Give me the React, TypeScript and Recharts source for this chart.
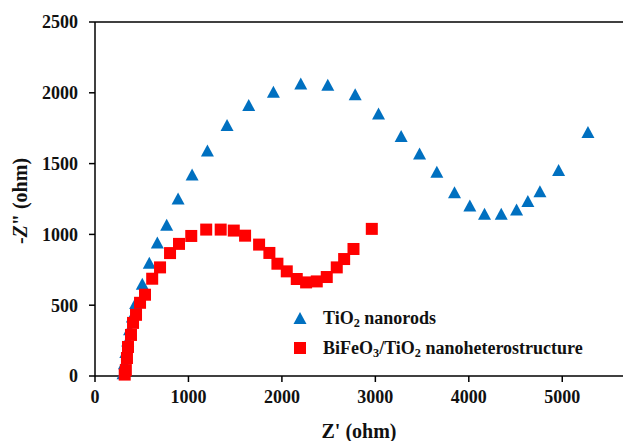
import React from 'react';
import {
  ScatterChart,
  Scatter,
  XAxis,
  YAxis,
  ReferenceLine,
  Label,
} from 'recharts';

// TiO2 nanorods (Z', -Z'')
const tio2X = [300, 315, 330, 350, 370, 400, 435, 506, 581, 667, 767, 889, 1039, 1203, 1413, 1645, 1909, 2202, 2491, 2784, 3034, 3276, 3473, 3658, 3847, 4011, 4168, 4347, 4511, 4632, 4761, 4961, 5275];
const tio2Y = [20, 90, 170, 250, 330, 420, 515, 651, 800, 942, 1069, 1254, 1423, 1593, 1773, 1914, 2007, 2066, 2056, 1990, 1853, 1695, 1572, 1443, 1298, 1204, 1145, 1145, 1176, 1235, 1305, 1454, 1723];

// BiFeO3/TiO2 nanoheterostructure
const bfoX = [318, 330, 342, 353, 385, 407, 439, 482, 535, 612, 696, 803, 899, 1030, 1190, 1345, 1485, 1606, 1756, 1866, 1952, 2052, 2159, 2259, 2373, 2480, 2587, 2666, 2766, 2962];
const bfoY = [10, 42, 127, 205, 290, 375, 432, 517, 574, 687, 767, 868, 933, 989, 1034, 1034, 1027, 991, 928, 869, 793, 739, 685, 661, 668, 699, 767, 826, 897, 1039];

const xTicks = [0, 1000, 2000, 3000, 4000, 5000];
const yTicks = [0, 500, 1000, 1500, 2000, 2500];

const tio2Data = tio2X.map((x, i) => ({ x, y: tio2Y[i] }));
const bfoData = bfoX.map((x, i) => ({ x, y: bfoY[i] }));

const FONT = '"Liberation Serif", "Times New Roman", serif';
const sub = { fontSize: '0.68em', position: 'relative' as const, top: 3 };

const Triangle = (props: any) => {
  const { cx, cy } = props;
  return (
    <polygon
      points={`${cx},${cy - 6} ${cx + 6.5},${cy + 6} ${cx - 6.5},${cy + 6}`}
      fill="#0070C0"
    />
  );
};

const Square = (props: any) => {
  const { cx, cy } = props;
  return <rect x={cx - 6} y={cy - 6} width={12} height={12} fill="#FF0000" />;
};

function LegendBox() {
  return (
    <div
      style={{
        position: 'absolute',
        left: 292,
        top: 303,
        fontFamily: FONT,
        fontWeight: 'bold',
        fontSize: 18,
        color: '#111',
        whiteSpace: 'nowrap',
      }}
    >
      <div style={{ display: 'flex', alignItems: 'center', height: 30 }}>
        <svg width={16} height={16} style={{ marginRight: 15 }}>
          <polygon points="8,2 14.5,14 1.5,14" fill="#0070C0" />
        </svg>
        <span>
          TiO<span style={sub}>2</span> nanorods
        </span>
      </div>
      <div style={{ display: 'flex', alignItems: 'center', height: 30 }}>
        <svg width={16} height={16} style={{ marginRight: 15 }}>
          <rect x={2} y={2} width={12} height={12} fill="#FF0000" />
        </svg>
        <span>
          BiFeO<span style={sub}>3</span>/TiO<span style={sub}>2</span> nanoheterostructure
        </span>
      </div>
    </div>
  );
}

export default function App() {
  return (
    <div style={{ position: 'absolute', left: 0, top: 0, width: 623, height: 441, background: '#fff' }}>
      <ScatterChart width={623} height={441} margin={{ top: 22, right: 0, bottom: 0, left: 0 }}>
        <XAxis
          type="number"
          dataKey="x"
          domain={[0, 5650]}
          ticks={xTicks}
          allowDataOverflow
          height={65}
          stroke="#000"
          strokeWidth={1.5}
          tickSize={6}
          tickMargin={8}
          tick={{ fill: '#111', fontSize: 18, fontWeight: 'bold', fontFamily: FONT }}
        >
          <Label
            value="Z' (ohm)"
            position="insideBottom"
            offset={3}
            style={{ fill: '#111', fontSize: 20, fontWeight: 'bold', fontFamily: FONT }}
          />
        </XAxis>
        <YAxis
          type="number"
          dataKey="y"
          domain={[0, 2500]}
          ticks={yTicks}
          width={95}
          stroke="#000"
          strokeWidth={1.5}
          tickSize={6}
          tickMargin={11}
          tick={{ fill: '#111', fontSize: 18, fontWeight: 'bold', fontFamily: FONT }}
        >
          <Label
            content={() => (
              <text
                x={20}
                y={201}
                transform="rotate(-90 20 201)"
                textAnchor="middle"
                dominantBaseline="central"
                style={{ fill: '#111', fontSize: 20, fontWeight: 'bold', fontFamily: FONT }}
              >
                -<tspan fontStyle="italic">Z</tspan>" (ohm)
              </text>
            )}
          />
        </YAxis>
        <ReferenceLine y={2500} stroke="#000" strokeWidth={1.5} />
        <Scatter
          name="TiO2 nanorods"
          data={tio2Data}
          shape={Triangle}
          isAnimationActive={false}
        />
        <Scatter
          name="BiFeO3/TiO2 nanoheterostructure"
          data={bfoData}
          shape={Square}
          isAnimationActive={false}
        />
      </ScatterChart>
      <LegendBox />
    </div>
  );
}
